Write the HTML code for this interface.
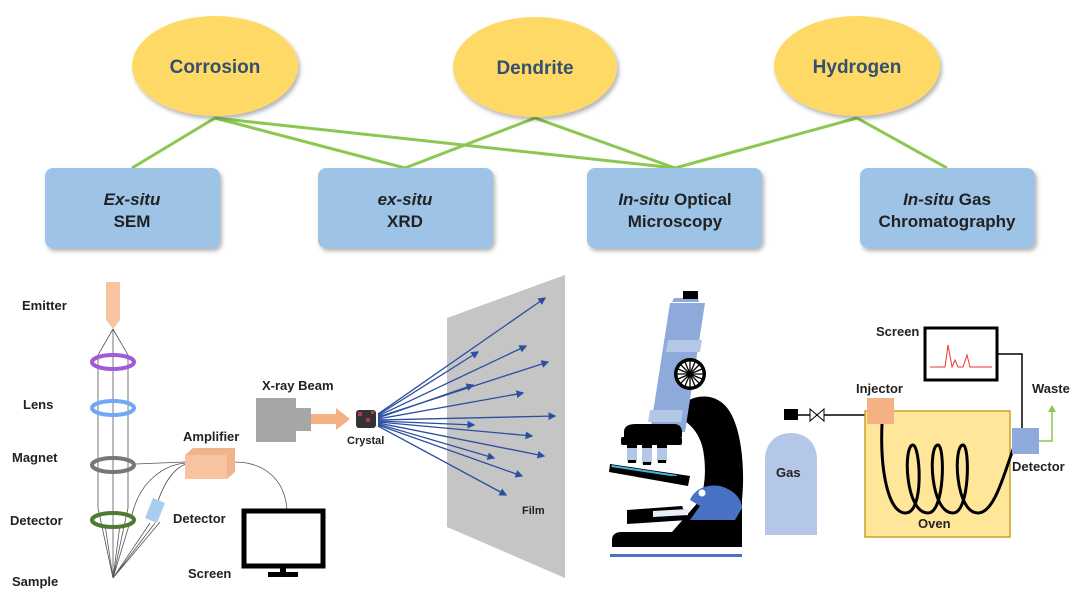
<!DOCTYPE html>
<html><head><meta charset="utf-8"><style>
body{margin:0;background:#fff}
svg{display:block}
text{font-family:"Liberation Sans",Arial,sans-serif;font-weight:bold;fill:#222}
</style></head><body>
<svg width="1080" height="610" viewBox="0 0 1080 610" xmlns="http://www.w3.org/2000/svg">
<defs>
<filter id="sh" x="-10%" y="-10%" width="130%" height="140%"><feDropShadow dx="2" dy="3" stdDeviation="2" flood-opacity="0.3"/></filter>
<marker id="ah" markerWidth="6" markerHeight="6" refX="5" refY="3" orient="auto"><path d="M0,0L6,3L0,6z" fill="#2a4fa0"/></marker>
</defs>
<g stroke="#8cc751" stroke-width="3" fill="none">
<line x1="215" y1="118" x2="132" y2="168"/>
<line x1="215" y1="118" x2="405" y2="168"/>
<line x1="215" y1="118" x2="675" y2="168"/>
<line x1="535" y1="118" x2="405" y2="168"/>
<line x1="535" y1="118" x2="675" y2="168"/>
<line x1="857" y1="118" x2="675" y2="168"/>
<line x1="857" y1="118" x2="947" y2="168"/>
</g>
<g fill="#ffd966" filter="url(#sh)">
<ellipse cx="215" cy="66" rx="83" ry="50"/>
<ellipse cx="535" cy="67" rx="82" ry="50"/>
<ellipse cx="857" cy="66" rx="83" ry="50"/>
</g>
<g font-size="19" text-anchor="middle">
<text x="215" y="73" style="fill:#34506f">Corrosion</text>
<text x="535" y="74" style="fill:#34506f">Dendrite</text>
<text x="857" y="73" style="fill:#34506f">Hydrogen</text>
</g>
<g fill="#9dc3e6" filter="url(#sh)">
<rect x="45" y="168" width="175" height="80" rx="8"/>
<rect x="318" y="168" width="175" height="80" rx="8"/>
<rect x="587" y="168" width="175" height="80" rx="8"/>
<rect x="860" y="168" width="175" height="80" rx="8"/>
</g>
<g font-size="17" text-anchor="middle">
<text x="132" y="205"><tspan font-style="italic">Ex-situ</tspan></text><text x="132" y="227">SEM</text>
<text x="405" y="205"><tspan font-style="italic">ex-situ</tspan></text><text x="405" y="227">XRD</text>
<text x="675" y="205"><tspan font-style="italic">In-situ</tspan> Optical</text><text x="675" y="227">Microscopy</text>
<text x="947" y="205"><tspan font-style="italic">In-situ</tspan> Gas</text><text x="947" y="227">Chromatography</text>
</g>
<!-- SEM -->
<g font-size="13">
<text x="22" y="310">Emitter</text><text x="23" y="409">Lens</text><text x="12" y="462">Magnet</text>
<text x="10" y="525">Detector</text><text x="12" y="586">Sample</text>
<text x="183" y="441">Amplifier</text><text x="173" y="523">Detector</text><text x="188" y="578">Screen</text>
</g>
<path d="M106,282h14v38l-7,9l-7,-9z" fill="#f8c4a0"/>
<g stroke="#555" stroke-width="0.8" fill="none">
<path d="M113,329L98,355L98,508L113,578L128,508L128,355L113,329"/>
<line x1="113" y1="329" x2="113" y2="578"/>
<path d="M113,578L105,525M113,578L120,525M113,578L130,522M113,578L150,523M113,578L155,523M113,578L160,522"/>
<path d="M136,464L185,462M132,515C140,480 165,465 185,463M153,518C160,490 170,470 186,464M234,462C265,462 285,480 287,510"/>
</g>
<g fill="none" stroke-width="4">
<ellipse cx="113" cy="362" rx="21" ry="7" stroke="#a259d9"/>
<ellipse cx="113" cy="408" rx="21" ry="7" stroke="#6fa8f5"/>
<ellipse cx="113" cy="465" rx="21" ry="7" stroke="#777"/>
<ellipse cx="113" cy="520" rx="21" ry="7" stroke="#4f7a32"/>
</g>
<path d="M153,498l12,5l-8,20l-12,-5z" fill="#a9cdec"/>
<path d="M185,455l8,-7h42l-8,7zM227,455l8,-7v24l-8,7z" fill="#f0b48c"/><rect x="185" y="455" width="42" height="24" fill="#f8c4a0"/>
<rect x="244" y="511" width="79" height="55" fill="#fff" stroke="#000" stroke-width="5"/>
<rect x="280" y="566" width="6" height="6" fill="#000"/><rect x="268" y="572" width="30" height="5" fill="#000"/>
<!-- XRD -->
<text x="262" y="390" font-size="13">X-ray Beam</text>
<text x="347" y="444" font-size="11">Crystal</text>
<path d="M256,398h40v10h15v23h-15v11h-40z" fill="#a6a6a6"/>
<path d="M311,414h25v-6l14,11l-14,11v-6h-25z" fill="#f4b183"/>
<rect x="356" y="410" width="20" height="18" rx="3" fill="#333"/>
<g fill="#d45" opacity="0.7"><rect x="358" y="412" width="4" height="4"/><rect x="366" y="418" width="4" height="4"/><rect x="371" y="411" width="3" height="3"/></g>
<polygon points="447,318 565,275 565,578 447,527" fill="#bfbfbf" opacity="0.9"/>
<g stroke="#2a4fa0" stroke-width="1.3" marker-end="url(#ah)">
<line x1="378" y1="414" x2="545" y2="298"/><line x1="378" y1="415" x2="478" y2="352"/>
<line x1="378" y1="416" x2="526" y2="346"/><line x1="378" y1="417" x2="548" y2="362"/>
<line x1="378" y1="418" x2="473" y2="385"/><line x1="378" y1="419" x2="523" y2="393"/>
<line x1="378" y1="420" x2="555" y2="416"/><line x1="378" y1="421" x2="474" y2="425"/>
<line x1="378" y1="422" x2="532" y2="436"/><line x1="378" y1="423" x2="544" y2="456"/>
<line x1="378" y1="424" x2="494" y2="458"/><line x1="378" y1="425" x2="522" y2="476"/>
<line x1="378" y1="426" x2="506" y2="495"/>
</g>
<text x="522" y="514" font-size="11">Film</text>
<!-- Microscope -->
<path d="M684,403C700,392 720,395 730,412C742,432 745,470 742,500L742,547L612,547L612,540C612,535 615,532 622,532L672,532L700,500C708,480 705,450 700,440C696,430 690,425 684,420z" fill="#000"/>
<path d="M690,500C695,488 708,484 720,486C735,490 742,500 742,508L735,520L690,520L700,506z" fill="#4a72c4"/>
<circle cx="702" cy="493" r="3.5" fill="#fff"/>
<rect x="610" y="554" width="132" height="3" fill="#4a72c4"/>
<path d="M627,510l55,-4l6,14l-61,4z" fill="#000"/><path d="M653,511l35,-2v6l-35,2z" fill="#e8eef8"/>
<path d="M610,464l80,12l-2,10l-79,-14z" fill="#000"/><path d="M612,465l65,10v2l-66,-10z" fill="#3fb6e0"/>
<rect x="672" y="476" width="10" height="6" fill="#000"/>
<path d="M650,432L670,303h35l-20,129z" fill="#8eaadb"/>
<path d="M668,340h34l-2,12h-34z" fill="#b4c7e7"/>
<path d="M650,410h33l-2,12h-33z" fill="#b4c7e7"/>
<path d="M672,302l2,-4h24l1,4z" fill="#8eaadb"/><rect x="683" y="291" width="15" height="8" fill="#000"/>
<path d="M624,432c0,-6 5,-8 12,-8h38c5,0 8,3 8,8v5h-58z" fill="#000"/>
<rect x="621" y="437" width="61" height="8" rx="2" fill="#000"/>
<g fill="#b4c7e7"><rect x="627" y="445" width="10" height="17"/><rect x="642" y="445" width="10" height="19"/><rect x="657" y="445" width="10" height="17"/></g>
<g fill="#000"><rect x="627" y="445" width="10" height="3"/><rect x="642" y="445" width="10" height="3"/><rect x="657" y="445" width="10" height="3"/><rect x="628" y="460" width="8" height="3"/><rect x="643" y="462" width="8" height="3"/><rect x="658" y="460" width="8" height="3"/></g>
<circle cx="690" cy="374" r="16" fill="#000"/><circle cx="690" cy="374" r="13" fill="#fff"/>
<g stroke="#000" stroke-width="1.3"><line x1="677" y1="374" x2="703" y2="374"/><line x1="690" y1="361" x2="690" y2="387"/><line x1="681" y1="365" x2="699" y2="383"/><line x1="699" y1="365" x2="681" y2="383"/><line x1="685" y1="362" x2="695" y2="386"/><line x1="695" y1="362" x2="685" y2="386"/><line x1="678" y1="369" x2="702" y2="379"/><line x1="678" y1="379" x2="702" y2="369"/></g>
<circle cx="690" cy="374" r="13" fill="none" stroke="#000" stroke-width="1"/>
<!-- GC -->
<path d="M765,535v-75c0,-18 12,-27 26,-27s26,9 26,27v75z" fill="#b4c7e7"/>
<rect x="784" y="409" width="14" height="11" fill="#000"/>
<text x="776" y="477" font-size="13">Gas</text>
<line x1="798" y1="415" x2="866" y2="415" stroke="#000" stroke-width="1.5"/>
<path d="M810,409l14,12v-12l-14,12z" fill="#fff" stroke="#000"/>
<rect x="865" y="411" width="145" height="126" fill="#ffe699" stroke="#c9a227" stroke-width="1.5"/>
<rect x="867" y="398" width="27" height="26" fill="#f4b183"/>
<text x="856" y="393" font-size="13">Injector</text>
<path d="M882,424C880,470 888,512 905,513C925,514 920,445 913,445C903,445 905,513 928,513C945,513 945,445 938,445C928,445 930,513 953,513C970,513 970,445 963,445C953,445 955,513 978,513C995,513 1005,470 1014,447" fill="none" stroke="#000" stroke-width="3"/>
<text x="918" y="528" font-size="13">Oven</text>
<rect x="1012" y="428" width="27" height="26" fill="#8eaadb"/>
<text x="1012" y="471" font-size="13">Detector</text>
<polyline points="1039,441 1052,441 1052,410" fill="none" stroke="#8cc751" stroke-width="1.5"/>
<path d="M1048,412l4,-7l4,7z" fill="#8cc751"/>
<text x="1032" y="393" font-size="13">Waste</text>
<polyline points="1022,428 1022,354 997,354" fill="none" stroke="#000" stroke-width="1.5"/>
<rect x="925" y="328" width="72" height="52" fill="#fff" stroke="#000" stroke-width="3"/>
<polyline points="930,367 945,367 948,345 952,367 955,360 958,367 963,367 967,355 970,367 992,367" fill="none" stroke="#e33" stroke-width="1"/>
<text x="876" y="336" font-size="13">Screen</text>
</svg>
</body></html>
